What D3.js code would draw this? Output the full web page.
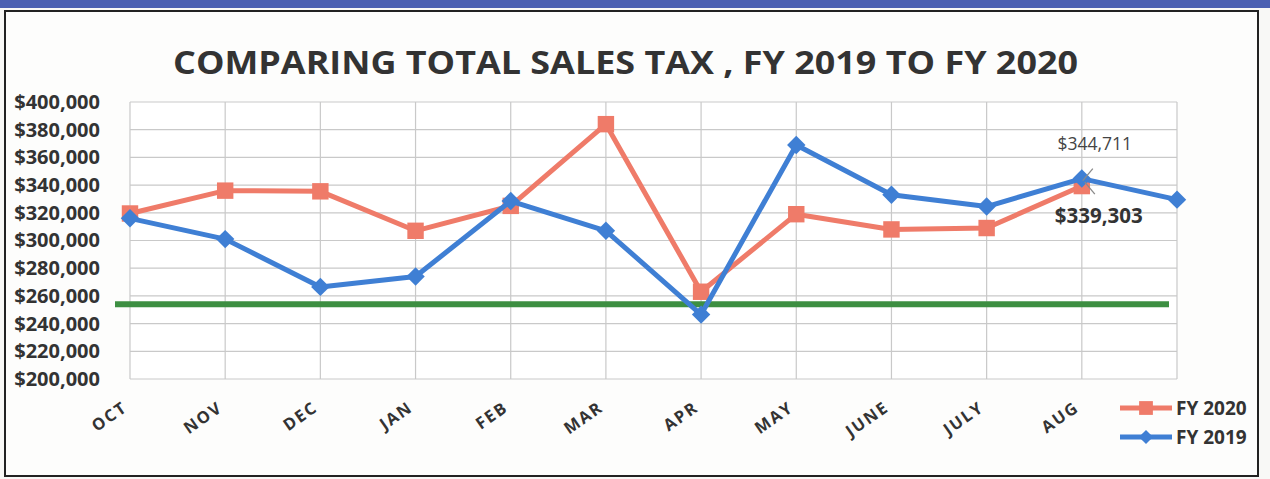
<!DOCTYPE html>
<html>
<head>
    <title>Comparing Total Sales Tax</title>
    <script src="https://cdn.jsdelivr.net/npm/d3@7"></script>
    <style>
        html, body {
            margin: 0;
            padding: 0;
            background-color: #f8f8f6;
            font-family: 'Open Sans', sans-serif;
        }
        #chart {
            width: 1270px;
            height: 479px;
        }
        .tick-y, .tick-x, .legend-text, .title {
            fill: #333;
            font-weight: bold;
        }
    </style>
</head>
<body>
    <div id="chart"></div>

    <script>
        // months on the x axis (last point of FY 2019 has no label)
        const months = ['OCT', 'NOV', 'DEC', 'JAN', 'FEB', 'MAR', 'APR', 'MAY', 'JUNE', 'JULY', 'AUG', ''];

        const fy2020 = [319500, 336000, 335500, 307000, 325000, 384000, 263000, 319000, 308000, 309000, 339303];
        const fy2019 = [316000, 301000, 266500, 274000, 328500, 307000, 246500, 369000, 333000, 324500, 344711, 329500];

        const targetLine = 254000;

        const yTicks = [200000, 220000, 240000, 260000, 280000, 300000, 320000, 340000, 360000, 380000, 400000];

        const seriesNames = ['FY 2020', 'FY 2019'];
        const colorFY2020 = '#ef7b69';
        const colorFY2019 = '#3f7fd4';
        const colorTarget = '#3d8f42';

        const width = 1270;
        const height = 479;

        const svg = d3.select('#chart')
            .append('svg')
            .attr('width', width)
            .attr('height', height);

        // blue band at the top of the page and the frame
        svg.append('rect')
            .attr('x', 0).attr('y', 0)
            .attr('width', width).attr('height', 8)
            .attr('fill', '#4b60b2');

        svg.append('rect')
            .attr('x', 5).attr('y', 11)
            .attr('width', 1253).attr('height', 465)
            .attr('fill', '#fdfdfc')
            .attr('stroke', '#222')
            .attr('stroke-width', 2);

        svg.append('text')
            .attr('class', 'title')
            .attr('x', 173)
            .attr('y', 74)
            .attr('textLength', 905)
            .attr('lengthAdjust', 'spacingAndGlyphs')
            .style('font-size', '33px')
            .text('COMPARING TOTAL SALES TAX , FY 2019 TO FY 2020');

        const xScale = d3.scalePoint()
            .domain(months)
            .range([130, 1177]);

        const yScale = d3.scaleLinear()
            .domain([200000, 400000])
            .range([379, 102]);

        const plot = svg.append('g');

        plot.append('rect')
            .attr('x', 130).attr('y', 102)
            .attr('width', 1177 - 130).attr('height', 379 - 102)
            .attr('fill', '#fff');

        // grid
        plot.selectAll('.hgrid')
            .data(yTicks)
            .enter()
            .append('line')
            .attr('x1', 130).attr('x2', 1177)
            .attr('y1', d => yScale(d)).attr('y2', d => yScale(d))
            .attr('stroke', '#c9c9c9')
            .attr('stroke-width', 1.2);

        plot.selectAll('.vgrid')
            .data(months)
            .enter()
            .append('line')
            .attr('x1', d => xScale(d)).attr('x2', d => xScale(d))
            .attr('y1', 102).attr('y2', 379)
            .attr('stroke', '#c9c9c9')
            .attr('stroke-width', 1.2);

        // y axis labels
        const yAxis = d3.axisLeft(yScale)
            .tickValues(yTicks)
            .tickSize(0)
            .tickPadding(0)
            .tickFormat(d => '$' + d3.format(',')(d));

        const yG = svg.append('g')
            .attr('transform', 'translate(100,0)')
            .call(yAxis);
        yG.select('.domain').remove();
        yG.selectAll('text')
            .attr('class', 'tick-y')
            .style('font-family', "'Open Sans', sans-serif")
            .style('font-size', '20px');

        // x axis labels
        const xAxis = d3.axisBottom(xScale).tickSize(0).tickPadding(0);
        const xG = svg.append('g')
            .attr('transform', 'translate(0,379)')
            .call(xAxis);
        xG.select('.domain').remove();
        xG.selectAll('text')
            .attr('class', 'tick-x')
            .style('font-family', "'Open Sans', sans-serif")
            .style('font-size', '16.5px')
            .style('letter-spacing', '1.8px')
            .attr('text-anchor', 'end')
            .attr('dy', 0)
            .attr('transform', 'translate(-2,31) rotate(-35)');

        // target line
        svg.append('line')
            .attr('x1', 115).attr('x2', 1169)
            .attr('y1', yScale(targetLine)).attr('y2', yScale(targetLine))
            .attr('stroke', colorTarget)
            .attr('stroke-width', 6);

        const line = d3.line()
            .x((d, i) => xScale(months[i]))
            .y(d => yScale(d));

        svg.append('path')
            .datum(fy2020)
            .attr('fill', 'none')
            .attr('stroke', colorFY2020)
            .attr('stroke-width', 5)
            .attr('stroke-linejoin', 'round')
            .attr('d', line);

        svg.selectAll('.m2020')
            .data(fy2020)
            .enter()
            .append('path')
            .attr('d', d3.symbol(d3.symbolSquare, 270))
            .attr('transform', (d, i) => `translate(${xScale(months[i])},${yScale(d)})`)
            .attr('fill', colorFY2020);

        svg.append('path')
            .datum(fy2019)
            .attr('fill', 'none')
            .attr('stroke', colorFY2019)
            .attr('stroke-width', 5)
            .attr('stroke-linejoin', 'round')
            .attr('d', line);

        svg.selectAll('.m2019')
            .data(fy2019)
            .enter()
            .append('path')
            .attr('d', d3.symbol(d3.symbolSquare, 170))
            .attr('transform', (d, i) => `translate(${xScale(months[i])},${yScale(d)}) rotate(45)`)
            .attr('fill', colorFY2019);

        // data labels for AUG
        const augX = xScale('AUG');
        const aug19 = yScale(fy2019[10]);
        const aug20 = yScale(fy2020[10]);

        svg.append('line')
            .attr('x1', augX + 1).attr('y1', aug19 + 2)
            .attr('x2', augX + 11).attr('y2', aug19 - 10)
            .attr('stroke', '#8a8a8a').attr('stroke-width', 1.3);
        svg.append('text')
            .attr('x', augX + 13).attr('y', aug19 - 29)
            .attr('text-anchor', 'middle')
            .style('font-size', '17.5px')
            .style('fill', '#444')
            .text('$' + d3.format(',')(fy2019[10]));

        svg.append('line')
            .attr('x1', augX + 3).attr('y1', aug20 - 4)
            .attr('x2', augX + 13).attr('y2', aug20 + 8)
            .attr('stroke', '#8a8a8a').attr('stroke-width', 1.3);
        svg.append('text')
            .attr('x', augX + 17).attr('y', aug20 + 37)
            .attr('text-anchor', 'middle')
            .style('font-size', '20.5px')
            .style('font-weight', 'bold')
            .style('fill', '#333')
            .text('$' + d3.format(',')(fy2020[10]));

        // legend
        const legend = svg.append('g').attr('transform', 'translate(1120,408)');
        const legendColors = [colorFY2020, colorFY2019];

        seriesNames.forEach((name, i) => {
            const g = legend.append('g').attr('transform', `translate(0,${i * 29})`);
            g.append('line')
                .attr('x1', 0).attr('x2', 52)
                .attr('stroke', legendColors[i])
                .attr('stroke-width', 5);
            g.append('path')
                .attr('d', d3.symbol(d3.symbolSquare, i === 0 ? 190 : 100))
                .attr('transform', `translate(26,0)` + (i === 1 ? ' rotate(45)' : ''))
                .attr('fill', legendColors[i]);
            g.append('text')
                .attr('class', 'legend-text')
                .attr('x', 56)
                .attr('y', 7)
                .style('font-size', '19px')
                .text(name);
        });
    </script>
</body>
</html>
